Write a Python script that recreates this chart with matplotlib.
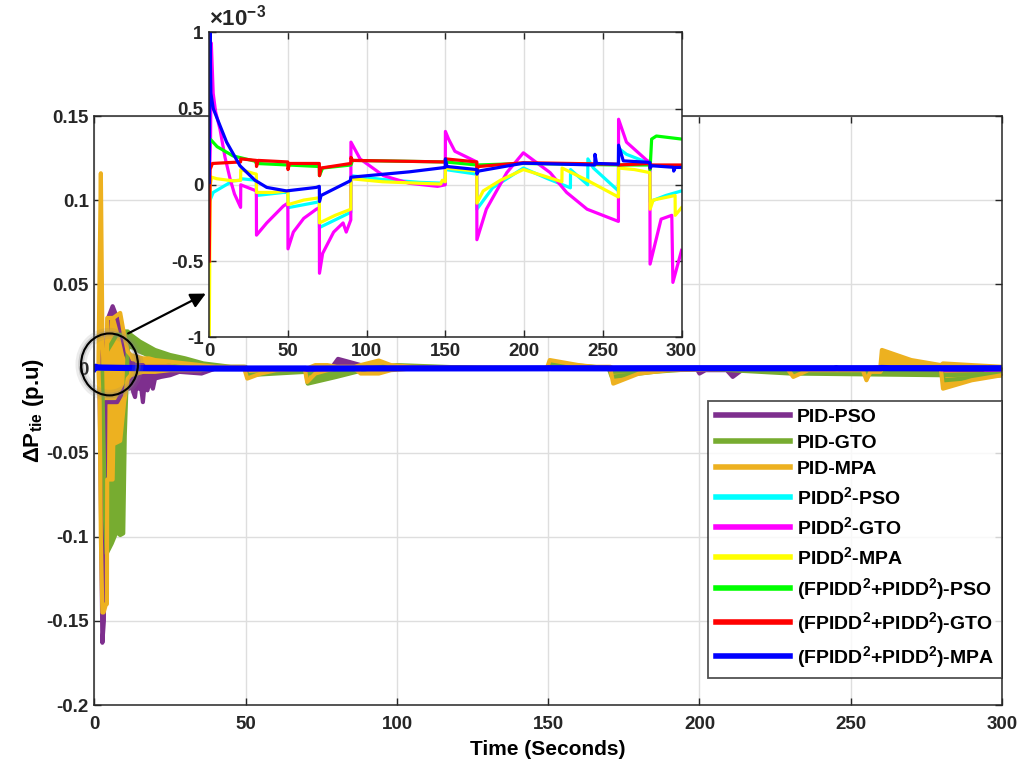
import matplotlib
matplotlib.use('Agg')
import matplotlib.pyplot as plt
from matplotlib.patches import Ellipse

plt.rcParams['font.family'] = ['Liberation Sans', 'DejaVu Sans']
plt.rcParams['font.weight'] = 'bold'
plt.rcParams['mathtext.fontset'] = 'custom'
plt.rcParams['mathtext.rm'] = 'Liberation Sans:bold'
plt.rcParams['mathtext.it'] = 'Liberation Sans:bold'
plt.rcParams['mathtext.bf'] = 'Liberation Sans:bold'
plt.rcParams['mathtext.default'] = 'rm'
plt.rcParams['axes.unicode_minus'] = False

##### PID series: oscillating, so kept as upper / lower envelope (p.u)
pso_t = [0, 1.6, 2.0, 2.6, 3.1, 3.6, 4.5, 6.0, 7.5, 9.0, 10.5, 11.5, 12.0, 12.8, 13.4, 14.0, 14.6, 15.2,
         16.0, 16.6, 17.5, 18.3, 19.3, 20.0, 22, 25, 28, 35.4, 40, 78, 79, 80.5, 84, 88, 90, 199, 200,
         202, 209, 211, 214, 261, 262, 264, 300]
pso_hi = [0, 0, 0.01, 0, 0, 0.01, 0.03, 0.037, 0.03, 0.02, 0.008, 0.004, 0.003, 0.003, 0.002, 0.002, 0.002, 0.002,
          0.002, 0.001, 0.001, 0.001, 0.001, 0.001, 0.001, 0.001, 0.0005, 0, 0, 0, 0.002, 0.0057, 0.004, 0.002, 0, 0, 0,
          0, 0, 0, 0, 0, 0, 0, 0]
pso_lo = [0, 0, -0.06, -0.163, -0.15, -0.02, -0.02, -0.02, -0.02, -0.015, -0.01, -0.012, -0.006, -0.014, -0.017,
          -0.007, -0.012, -0.008, -0.02, -0.008, -0.013, -0.007, -0.012, -0.006, -0.005, -0.004, -0.002, -0.003, 0, 0,
          0, 0, 0, 0, 0, 0, -0.003, -0.001, -0.001, -0.005, -0.001, -0.001, -0.003, -0.001, -0.001]

gto_t = [0, 2.5, 3.5, 4.0, 5.7, 7.3, 8.5, 9.5, 10.0, 11.0, 12, 15, 20, 25, 30, 36, 45, 49.9, 50.5, 60, 69.9,
         70.5, 80, 91, 100, 130, 150, 151, 165, 170, 171, 185, 200, 230, 280, 281, 300]
gto_hi = [0, 0, 0.01, 0.01, 0.015, 0.02, 0.02, 0.02, 0.022, 0.022, 0.02, 0.016, 0.011, 0.008, 0.006, 0.003, 0.001,
          0.001, 0, 0, 0, -0.003, -0.002, 0, 0.002, 0, 0, 0.003, 0.001, 0, -0.002, -0.001, 0, -0.002, -0.003,
          -0.004, -0.003]
gto_lo = [0, 0, -0.09, -0.11, -0.104, -0.097, -0.099, -0.098, -0.04, 0.012, 0.013, 0.01, 0.006, 0.004, 0.002, 0.001,
          0, 0, -0.004, -0.003, -0.002, -0.009, -0.005, 0, 0, 0, 0, 0, 0, 0, -0.005, -0.002, 0, -0.003, -0.004,
          -0.007, -0.004]

mpa_t = [0, 1.3, 1.7, 2.1, 2.6, 3.0, 3.8, 4.1, 4.2, 6.0, 6.2, 8.5, 9.8, 11, 12, 14, 16, 18, 20, 25, 30, 35, 40,
         49.5, 50.5, 55, 60, 69.5, 70.3, 73, 77, 80, 86, 88, 94, 98, 105, 149.5, 150.5, 160, 165, 170.5, 171.5,
         180, 190, 229, 231, 236, 254, 255.2, 256.5, 259.8, 260.3, 270, 279.8, 280.5, 290, 300]
mpa_hi = [0, 0, 0.06, 0.116, 0.02, 0, 0, 0, 0.03, 0.03, 0.03, 0.033, 0.02, 0.01, 0.008, 0.007, 0.006, 0.006, 0.005,
          0.004, 0.003, 0.002, 0.001, 0.001, 0, 0, 0, 0, 0, 0.002, 0.002, 0.001, 0.001, 0.002, 0.0047, 0.002, 0.001,
          0, 0.005, 0.002, 0.001, 0.001, 0, 0, 0, 0, 0, 0, 0, 0, 0, 0.001, 0.011, 0.005, 0.002, 0.003, 0.002, 0.001]
mpa_lo = [0, 0, -0.02, -0.1, -0.145, -0.145, -0.14, -0.14, -0.066, -0.066, -0.045, -0.043, -0.02, -0.006, -0.004,
          -0.003, -0.002, -0.002, -0.002, -0.001, -0.001, -0.001, 0, 0, -0.006, -0.003, -0.001, 0, -0.008, -0.003,
          -0.001, 0, 0, -0.003, -0.003, -0.001, 0, 0, 0, 0, 0, 0, -0.009, -0.003, -0.001, 0, -0.005, -0.001, -0.001,
          -0.007, -0.002, -0.002, 0, 0, 0, -0.012, -0.007, -0.004]

##### PIDD2 and FPIDD2+PIDD2 series, values in units of 1e-3 p.u
pidd_pso_t = [0.5, 2.5, 15, 19.9, 20, 29.9, 30, 47, 49.9, 50, 68, 69.9, 70, 89.9, 90, 110, 134, 149.9, 150,
              169.9, 170, 180, 199.5, 215, 229.4, 229.5, 240.4, 240.5, 244, 259.9, 260, 265, 279.9, 280, 290, 300]
pidd_pso_v = [-0.1, -0.05, 0.026, 0.03, 0.04, 0.03, -0.07, -0.05, -0.05, -0.15, -0.115, -0.11, -0.28, -0.18, 0.06,
              0.035, 0.016, 0.01, 0.1, 0.07, -0.16, -0.02, 0.11, 0.04, -0.02, 0.1, 0.0, 0.17, 0.11, -0.04, 0.24,
              0.2, 0.14, -0.11, -0.07, -0.04]

pidd_gto_t = [0, 0.8, 1.3, 2.5, 4, 6.8, 10, 13.2, 16, 19.9, 20, 29.9, 30, 36.5, 47, 49.9, 50, 53.4, 60, 68, 69.9,
              70, 72, 79, 85, 87, 89.9, 90, 95.8, 110.6, 127, 145, 149.9, 150, 152, 156, 169.9, 170, 176, 189,
              199.5, 216.5, 227, 240, 259.9, 260, 265, 278, 279.9, 280, 287, 293.8, 294.5, 300]
pidd_gto_v = [0, 0.3, 0.93, 0.6, 0.48, 0.365, 0.18, 0.04, -0.06, -0.148, 0.0, -0.04, -0.33, -0.25, -0.14, -0.12,
              -0.42, -0.31, -0.22, -0.16, -0.15, -0.58, -0.45, -0.31, -0.25, -0.31, -0.23, 0.28, 0.17, 0.06, 0.01,
              -0.01, 0.0, 0.35, 0.3, 0.22, 0.15, -0.36, -0.16, 0.08, 0.21, 0.08, -0.05, -0.16, -0.24, 0.43, 0.28,
              0.16, 0.15, -0.52, -0.225, -0.2, -0.64, -0.43]

pidd_mpa_t = [0, 0.6, 1.5, 4.7, 15, 19.9, 20, 28, 29.9, 30, 40, 49.9, 50, 60, 69.9, 70, 80, 89.9, 90, 110, 134,
              147, 148, 149.9, 150, 160, 169.9, 170, 174, 185, 199.5, 212, 224, 224.1, 240, 259.9, 260, 270, 279.9,
              280, 282, 295.9, 296, 300]
pidd_mpa_v = [-1.0, 0.0, 0.05, 0.04, 0.026, 0.03, 0.1, 0.075, 0.07, -0.05, -0.05, -0.04, -0.13, -0.1, -0.085, -0.25,
              -0.2, -0.16, 0.04, 0.02, 0.01, 0.005, 0.03, 0.02, 0.11, 0.1, 0.09, -0.12, -0.04, 0.03, 0.1, 0.06, 0.02,
              0.11, 0.03, -0.08, 0.11, 0.1, 0.08, -0.16, -0.1, -0.07, -0.2, -0.15]

fp_pso_t = [0.6, 5, 15, 29, 30, 50, 69.9, 70, 72, 90, 91, 150, 170, 200, 260, 279.9, 280, 281, 284, 300]
fp_pso_v = [0.3, 0.25, 0.19, 0.155, 0.14, 0.13, 0.12, 0.06, 0.11, 0.13, 0.16, 0.15, 0.13, 0.14, 0.13, 0.13, 0.1,
            0.3, 0.32, 0.3]

fp_gto_t = [0, 0.5, 2, 19.9, 20, 29.9, 30, 31, 49.9, 50, 51, 69.9, 70, 71, 89.9, 90, 91, 149.9, 150, 169.9, 170,
            171, 199.5, 259.9, 260, 279.9, 280, 281, 300]
fp_gto_v = [-0.5, 0.1, 0.14, 0.15, 0.17, 0.16, 0.12, 0.16, 0.15, 0.1, 0.14, 0.14, 0.06, 0.11, 0.14, 0.18, 0.16,
            0.15, 0.17, 0.15, 0.1, 0.12, 0.145, 0.135, 0.13, 0.14, 0.11, 0.13, 0.13]

fp_mpa_t = [0, 0.4, 1.0, 2.5, 11, 19.5, 29, 36.5, 49, 68, 69.9, 70, 71, 89.5, 90, 127, 149.9, 150, 151, 169.9,
            170, 171, 199.5, 244.9, 245, 246, 259.9, 260, 263, 279.9, 280, 281, 294.9, 295, 296, 300]
fp_mpa_v = [0.015, 1.0, 0.6, 0.5, 0.28, 0.125, 0.03, -0.017, -0.04, -0.017, -0.01, -0.11, -0.07, 0.026, 0.05,
            0.085, 0.114, 0.17, 0.12, 0.1, 0.07, 0.09, 0.142, 0.13, 0.2, 0.14, 0.135, 0.26, 0.157, 0.147, 0.11,
            0.125, 0.115, 0.09, 0.114, 0.114]

pid_labels = ['PID-PSO', 'PID-GTO', 'PID-MPA']
pid_colors = ['#7E2F8E', '#77AC30', '#EDB120']
new_labels = [r'PIDD$^{2}$-PSO', r'PIDD$^{2}$-GTO', r'PIDD$^{2}$-MPA',
              r'(FPIDD$^{2}$+PIDD$^{2}$)-PSO', r'(FPIDD$^{2}$+PIDD$^{2}$)-GTO', r'(FPIDD$^{2}$+PIDD$^{2}$)-MPA']
new_colors = ['#00FFFF', '#FF00FF', '#FFFF00', '#00FF00', '#FF0000', '#0000FF']

main_xticks = [0, 50, 100, 150, 200, 250, 300]
main_yticks = [-0.2, -0.15, -0.1, -0.05, 0, 0.05, 0.1, 0.15]
main_ytick_labels = ['-0.2', '-0.15', '-0.1', '-0.05', '0', '0.05', '0.1', '0.15']
inset_yticks = [-1, -0.5, 0, 0.5, 1]
inset_ytick_labels = ['-1', '-0.5', '0', '0.5', '1']

pid_data = [(pso_t, pso_hi, pso_lo), (gto_t, gto_hi, gto_lo), (mpa_t, mpa_hi, mpa_lo)]
new_data = [(pidd_pso_t, pidd_pso_v), (pidd_gto_t, pidd_gto_v), (pidd_mpa_t, pidd_mpa_v),
            (fp_pso_t, fp_pso_v), (fp_gto_t, fp_gto_v), (fp_mpa_t, fp_mpa_v)]

fig = plt.figure(figsize=(10.35, 7.64), dpi=100)
ax = fig.add_axes([0.0913, 0.0772, 0.8768, 0.7709])

def style_axes(a, fs, xpad=4):
    a.tick_params(direction='in', length=5, width=1, top=True, right=True, labelsize=fs,
                  colors='#262626', pad=4)
    a.tick_params(axis='x', pad=xpad)
    for s in a.spines.values():
        s.set_color('#262626')
        s.set_linewidth(1.1)
    a.grid(True, color='#dedede', linewidth=1)
    a.set_axisbelow(True)

handles = []
for (t, hi, lo), c, lab in zip(pid_data, pid_colors, pid_labels):
    ax.fill_between(t, lo, hi, color=c, lw=0)
    h, = ax.plot(t, hi, color=c, lw=3, label=lab)
    ax.plot(t, lo, color=c, lw=3)
    handles.append(h)
for (t, v), c, lab in zip(new_data, new_colors, new_labels):
    lw = 4.5 if c == '#0000FF' else 3
    h, = ax.plot(t, [x * 1e-3 for x in v], color=c, lw=lw, label=lab)
    handles.append(h)

ax.set_xlim(0, 300)
ax.set_ylim(-0.2, 0.15)
ax.set_xticks(main_xticks)
ax.set_yticks(main_yticks)
ax.set_yticklabels(main_ytick_labels)
style_axes(ax, 13.5, xpad=8)
ax.set_xlabel('Time (Seconds)', fontsize=15, fontweight='bold', labelpad=5)
ax.set_ylabel('ΔP$_{tie}$ (p.u)', fontsize=16, fontweight='bold', labelpad=0)

leg = ax.legend(handles=handles, loc='lower right', bbox_to_anchor=(1.0, 0.046), borderaxespad=0,
                fontsize=14, frameon=True, fancybox=False, handlelength=3.8, labelspacing=0.42,
                borderpad=0.4, handletextpad=0.35)
leg.get_frame().set_edgecolor('#262626')
leg.get_frame().set_linewidth(1.3)
for ln in leg.get_lines():
    ln.set_linewidth(4)

# zoom circle and arrow
for w, a in [(8, 0.15), (4, 0.3)]:
    ax.add_patch(Ellipse((4.96, 0.0024), 18.8, 0.0368, fill=False, edgecolor='gray', lw=w, alpha=a,
                         clip_on=False, zorder=5))
ax.add_patch(Ellipse((4.96, 0.0024), 18.8, 0.0368, fill=False, edgecolor='black', lw=1.5,
                     clip_on=False, zorder=6))
ax.annotate('', xy=(36.8, 0.0445), xytext=(11.1, 0.0208), annotation_clip=False, zorder=6,
            arrowprops=dict(arrowstyle='-|>,head_length=0.9,head_width=0.45', color='black', lw=1.6,
                            shrinkA=0, shrinkB=0))

# inset
ax_in = fig.add_axes([0.2022, 0.5585, 0.4563, 0.3992])
ax_in.set_facecolor('white')
for (t, v), c in zip(new_data, new_colors):
    ax_in.plot(t, v, color=c, lw=2.3)
ax_in.set_xlim(0, 300)
ax_in.set_ylim(-1, 1)
ax_in.set_xticks(main_xticks)
ax_in.set_yticks(inset_yticks)
ax_in.set_yticklabels(inset_ytick_labels)
style_axes(ax_in, 13.5)
ax_in.text(0.0, 1.005, r'$\times$10$^{-3}$', transform=ax_in.transAxes, fontsize=16, ha='left', va='bottom',
           color='#262626')

fig.savefig('out.png', dpi=100)
